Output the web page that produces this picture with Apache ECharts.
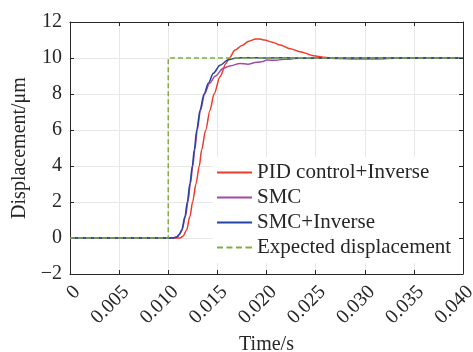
<!DOCTYPE html>
<html>
<head>
<meta charset="utf-8">
<script src="https://cdn.jsdelivr.net/npm/echarts@6/dist/echarts.min.js"></script>
<style>
  html, body { margin: 0; padding: 0; background: #fff; }
  #chart { width: 473px; height: 352px; }
</style>
</head>
<body>
<div id="chart"></div>
<script>
// series names (legend order)
const seriesNames = ["PID control+Inverse", "SMC", "SMC+Inverse", "Expected displacement"];

// x tick labels, every 0.005 s
const xTickLabels = ["0", "0.005", "0.010", "0.015", "0.020", "0.025", "0.030", "0.035", "0.040"];

// [time (s), displacement (um)]
const pidInverse = [
  [0, 0], [0.0112, 0], [0.0115, 0.1], [0.01187, 0.44], [0.0122, 1.19], [0.01248, 2.0],
  [0.01282, 3.0], [0.01316, 4.0], [0.0134, 4.9], [0.01381, 6.0], [0.01425, 7.1],
  [0.01466, 8.0], [0.01527, 8.96], [0.01588, 9.7], [0.0162, 10.0], [0.0168, 10.44],
  [0.0175, 10.7], [0.0182, 10.93], [0.0189, 11.05], [0.0193, 11.06], [0.0198, 11.0],
  [0.0206, 10.88], [0.0214, 10.72], [0.0224, 10.52], [0.0234, 10.35], [0.0248, 10.13],
  [0.0258, 10.04], [0.0272, 9.97], [0.029, 9.94], [0.031, 9.95], [0.033, 9.98],
  [0.036, 10.0], [0.040, 10.0]
];

const smc = [
  [0, 0], [0.0105, 0], [0.0109, 0.05], [0.0112, 0.22], [0.0114, 0.44], [0.01175, 1.19],
  [0.012, 2.0], [0.01226, 3.04], [0.0125, 4.0], [0.0127, 4.9], [0.01295, 6.0],
  [0.01328, 7.1], [0.0137, 8.0], [0.0142, 8.6], [0.0148, 9.0], [0.0156, 9.43],
  [0.0163, 9.56], [0.0173, 9.7], [0.0181, 9.65], [0.019, 9.76], [0.0196, 9.8],
  [0.02, 9.89], [0.021, 9.87], [0.0215, 9.92], [0.0222, 9.93], [0.0228, 9.97],
  [0.0235, 10.0], [0.026, 10.01], [0.028, 9.99], [0.032, 10.0], [0.040, 10.0]
];

const smcInverse = [
  [0, 0], [0.0105, 0], [0.01086, 0.05], [0.0111, 0.2], [0.01137, 0.44], [0.0117, 1.19],
  [0.01194, 2.0], [0.01221, 3.04], [0.01245, 4.0], [0.01265, 4.9], [0.0129, 6.0],
  [0.01323, 7.1], [0.01364, 8.0], [0.01408, 8.6], [0.01459, 9.15], [0.01527, 9.6],
  [0.01611, 9.9], [0.01696, 10.0], [0.018, 10.02], [0.02, 10.0], [0.022, 10.02],
  [0.024, 9.99], [0.026, 10.01], [0.028, 10.0], [0.040, 10.0]
];

const expected = [[0, 0], [0.010, 0], [0.010, 10], [0.040, 10]];

const COLORS = ["#ef3b2c", "#a24aa6", "#2444a4", "#7fae45"];
const FONT = "'Liberation Serif', 'DejaVu Serif', serif";
const INK = "#262626";

// legend glyphs: a solid stroke, and a dashed one for the reference step
const SOLID_ICON = "path://M0,0h35v2h-35z";
const DASH_ICON = "path://M0,0h6v2h-6z M9.5,0h6v2h-6z M19,0h6v2h-6z M28.5,0h6.5v2h-6.5z";

const chart = echarts.init(document.getElementById("chart"));

const lineSeries = (name, data, i, extra) => Object.assign({
  name,
  type: "line",
  data,
  symbol: "none",
  smooth: 0.3,
  smoothMonotone: "x",
  lineStyle: { width: 1.5, color: COLORS[i] },
  itemStyle: { color: COLORS[i] },
  animation: false,
}, extra || {});

const boxAxis = {
  axisLine: { show: true, onZero: false, lineStyle: { color: INK, width: 1 } },
  axisTick: { show: true, inside: true, length: 4, lineStyle: { color: INK } },
  axisLabel: { show: false },
  splitLine: { show: false },
};

chart.setOption({
  backgroundColor: "#fff",
  textStyle: { fontFamily: FONT, color: INK },
  grid: { left: 70, right: 10, top: 22, bottom: 78, containLabel: false, outerBoundsMode: "none" },
  legend: {
    orient: "vertical",
    left: 213,
    top: 157,
    padding: [5, 12, 5, 4],
    itemGap: 4,
    itemWidth: 35,
    itemHeight: 2,
    backgroundColor: "#fff",
    borderWidth: 0,
    itemStyle: { borderWidth: 0 },
    textStyle: { fontFamily: FONT, fontSize: 21, color: INK, lineHeight: 21 },
    data: seriesNames.map((name, i) => ({ name, icon: i === 3 ? DASH_ICON : SOLID_ICON })),
  },
  xAxis: [
    {
      type: "value",
      min: 0,
      max: 0.04,
      interval: 0.005,
      name: "Time/s",
      nameLocation: "middle",
      nameGap: 56,
      nameTextStyle: { fontFamily: FONT, fontSize: 20, color: INK },
      axisLine: { show: true, onZero: false, lineStyle: { color: INK, width: 1 } },
      axisTick: { show: true, inside: true, length: 4, lineStyle: { color: INK } },
      axisLabel: {
        rotate: 45,
        margin: 8,
        verticalAlign: "top",
        fontFamily: FONT,
        fontSize: 20,
        color: INK,
        formatter: (v) => xTickLabels[Math.round(v / 0.005)] ?? "",
      },
      splitLine: { show: true, lineStyle: { color: "#e8e8e8", width: 1 } },
    },
    Object.assign({ type: "value", position: "top", min: 0, max: 0.04, interval: 0.005 }, boxAxis),
  ],
  yAxis: [
    {
      type: "value",
      min: -2,
      max: 12,
      interval: 2,
      name: "Displacement/μm",
      nameLocation: "middle",
      nameGap: 38,
      nameTextStyle: { fontFamily: FONT, fontSize: 20, color: INK },
      axisLine: { show: true, onZero: false, lineStyle: { color: INK, width: 1 } },
      axisTick: { show: true, inside: true, length: 4, lineStyle: { color: INK } },
      axisLabel: {
        margin: 8,
        fontFamily: FONT,
        fontSize: 20,
        color: INK,
        formatter: (v) => (v < 0 ? "\u2212" + Math.abs(v) : String(v)),
      },
      splitLine: { show: true, lineStyle: { color: "#e8e8e8", width: 1 } },
    },
    Object.assign({ type: "value", position: "right", min: -2, max: 12, interval: 2, z: 6 }, boxAxis),
  ],
  series: [
    lineSeries(seriesNames[0], pidInverse, 0),
    lineSeries(seriesNames[1], smc, 1),
    lineSeries(seriesNames[2], smcInverse, 2),
    lineSeries(seriesNames[3], expected, 3, {
      smooth: false,
      lineStyle: { width: 1.5, color: COLORS[3], type: [5, 3] },
    }),
  ],
});
</script>
</body>
</html>
